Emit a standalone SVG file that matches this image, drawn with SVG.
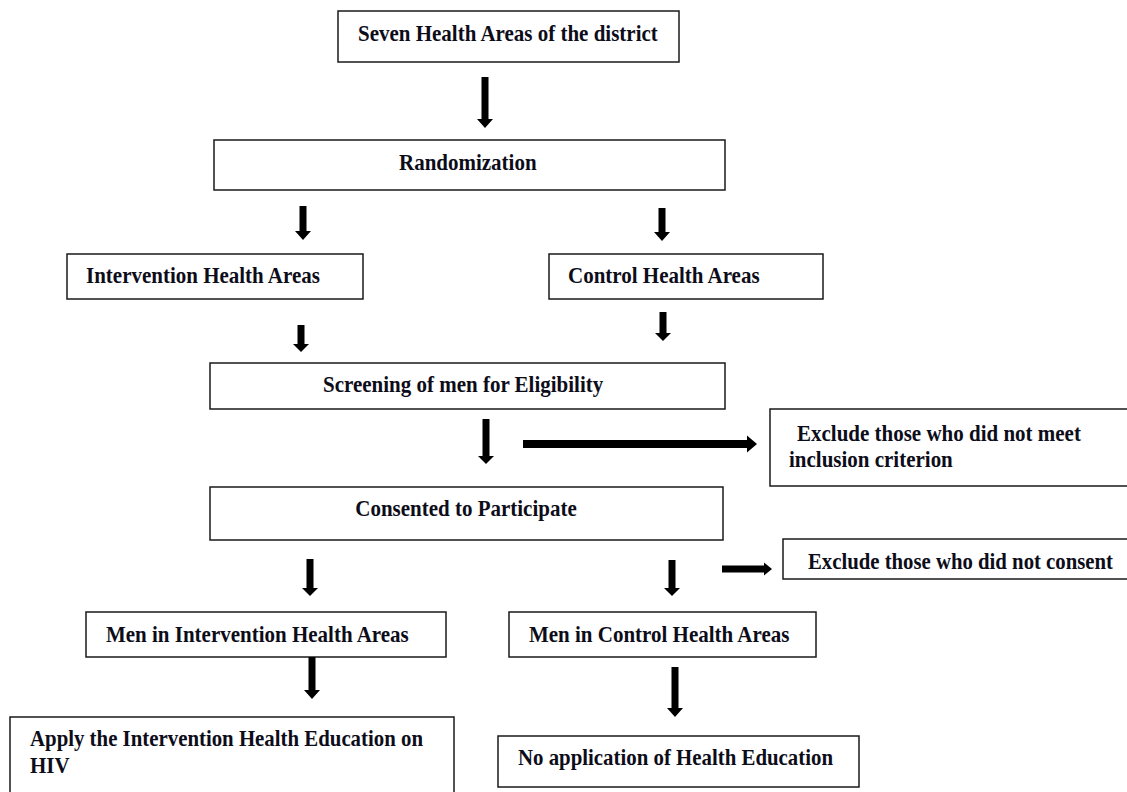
<svg xmlns="http://www.w3.org/2000/svg" width="1127" height="792" viewBox="0 0 1127 792">
<style>
.box{fill:#fff;stroke:#1a1a1a;stroke-width:1.5}
.t{font-family:"Liberation Serif","Times New Roman",serif;font-weight:bold;font-size:21px;fill:#0d0d1a;transform-box:fill-box;transform-origin:50% 80%;transform:scale(1,1.12)}
.arr{fill:#000}
</style>
<rect width="1127" height="792" fill="#fff"/>
<g id="n1"><rect class="box" x="338" y="11" width="341" height="51"/><text class="t" x="358" y="41">Seven Health Areas of the district</text></g>
<g id="n2"><rect class="box" x="214" y="140" width="511" height="50"/><text class="t" x="399" y="170">Randomization</text></g>
<g id="n3"><rect class="box" x="67" y="254" width="296" height="45"/><text class="t" x="86" y="283">Intervention Health Areas</text></g>
<g id="n4"><rect class="box" x="549" y="254" width="274" height="45"/><text class="t" x="568" y="283">Control Health Areas</text></g>
<g id="n5"><rect class="box" x="210" y="363" width="515" height="46"/><text class="t" x="323" y="392">Screening of men for Eligibility</text></g>
<g id="n6"><rect class="box" x="770" y="409" width="362" height="77"/><text class="t" x="797" y="441">Exclude those who did not meet</text><text class="t" x="789" y="467">inclusion criterion</text></g>
<g id="n7"><rect class="box" x="210" y="487" width="513" height="53"/><text class="t" x="466" y="516" text-anchor="middle">Consented to Participate</text></g>
<g id="n8"><rect class="box" x="783" y="539" width="349" height="40"/><text class="t" x="808" y="569" textLength="305" lengthAdjust="spacingAndGlyphs">Exclude those who did not consent</text></g>
<g id="n9"><rect class="box" x="86" y="612" width="360" height="45"/><text class="t" x="106" y="642">Men in Intervention Health Areas</text></g>
<g id="n10"><rect class="box" x="509" y="612" width="307" height="45"/><text class="t" x="529" y="642">Men in Control Health Areas</text></g>
<g id="n11"><rect class="box" x="10" y="717" width="444" height="85"/><text class="t" x="30" y="746" textLength="393" lengthAdjust="spacingAndGlyphs">Apply the Intervention Health Education on</text><text class="t" x="30" y="773">HIV</text></g>
<g id="n12"><rect class="box" x="498" y="736" width="361" height="51"/><text class="t" x="518" y="765" textLength="315" lengthAdjust="spacingAndGlyphs">No application of Health Education</text></g>
<g id="connectors">
<path class="arr" d="M481.5 77H488.5V119H493L485 128L477 119H481.5Z"/>
<path class="arr" d="M299.5 206H306.5V231H311L303 240L295 231H299.5Z"/>
<path class="arr" d="M658.5 208H665.5V232H670L662 241L654 232H658.5Z"/>
<path class="arr" d="M297.5 325H304.5V344H309L301 352L293 344H297.5Z"/>
<path class="arr" d="M659.5 312H666.5V333H671L663 341L655 333H659.5Z"/>
<path class="arr" d="M482.5 419H489.5V456H494L486 464L478 456H482.5Z"/>
<path class="arr" d="M306.5 559H313.5V588H318L310 596L302 588H306.5Z"/>
<path class="arr" d="M668.5 560H675.5V588H680L672 596L664 588H668.5Z"/>
<path class="arr" d="M308.5 657H315.5V690H320L312 699L304 690H308.5Z"/>
<path class="arr" d="M671.5 667H678.5V708H683L675 717L667 708H671.5Z"/>
<path class="arr" d="M523 440H747V435.5L757 444L747 452.5V448H523Z"/>
<path class="arr" d="M722 565.5H764V562.5L772 569L764 575.5V572.5H722Z"/>
</g>
</svg>
